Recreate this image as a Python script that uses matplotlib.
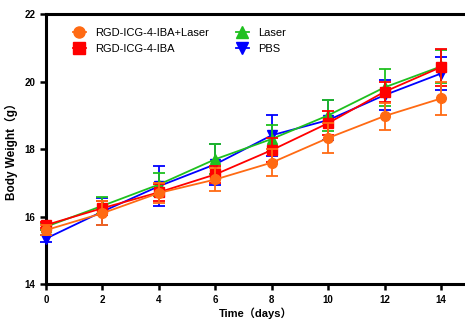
import matplotlib
matplotlib.use("Agg")
import matplotlib.pyplot as plt
from matplotlib.lines import Line2D

days = [0, 2, 4, 6, 8, 10, 12, 14]

labels = ["RGD-ICG-4-IBA+Laser", "RGD-ICG-4-IBA", "Laser", "PBS"]

rgd_laser = [15.60, 16.10, 16.70, 17.10, 17.60, 18.33, 18.98, 19.50]
rgd_laser_sd = [0.15, 0.35, 0.30, 0.35, 0.40, 0.45, 0.40, 0.50]

rgd = [15.75, 16.25, 16.72, 17.25, 17.97, 18.77, 19.70, 20.43]
rgd_sd = [0.10, 0.20, 0.25, 0.25, 0.35, 0.35, 0.30, 0.55]

laser = [15.70, 16.32, 16.95, 17.70, 18.30, 19.00, 19.83, 20.45]
laser_sd = [0.10, 0.25, 0.35, 0.45, 0.40, 0.45, 0.55, 0.50]

pbs = [15.35, 16.15, 16.90, 17.55, 18.41, 18.86, 19.60, 20.24]
pbs_sd = [0.10, 0.40, 0.60, 0.60, 0.60, 0.60, 0.45, 0.50]

colors = ["#FF6A13", "#FF0000", "#1FC01F", "#0000FF"]
markers = ["o", "s", "^", "v"]

fig = plt.figure(figsize=(4.65, 3.21), dpi=100)
ax = fig.add_axes([0.099, 0.115, 0.901, 0.841])

series = [rgd_laser, rgd, laser, pbs]
sds = [rgd_laser_sd, rgd_sd, laser_sd, pbs_sd]
zs = [6, 5, 4, 3]
handles = []
for y, e, c, m, lab, z in zip(series, sds, colors, markers, labels, zs):
    ax.errorbar(days, y, yerr=e, color=c, marker=m, markersize=7,
                linewidth=1.3, elinewidth=1.3, capsize=4.5, capthick=1.3,
                zorder=z, clip_on=False)
    handles.append(Line2D([], [], color=c, marker=m, markersize=8,
                          linewidth=1.3))

ax.set_xlim(0, 14.85)
ax.set_ylim(14, 22)
ax.set_xticks(days)
ax.set_yticks([14, 16, 18, 20, 22])

for s in ["left", "bottom", "top"]:
    ax.spines[s].set_linewidth(2.2)
ax.spines["right"].set_visible(False)
ax.tick_params(axis="both", direction="out", length=4, width=1.8,
               labelsize=7)
for t in ax.get_xticklabels() + ax.get_yticklabels():
    t.set_fontweight("bold")
    t.set_fontfamily("Liberation Sans")

ax.set_xlabel("Time（days）", fontsize=8, fontweight="bold",
              family=["Liberation Sans", "Noto Sans CJK SC"], labelpad=2)
ax.set_ylabel("Body Weight（g）", fontsize=8.5, fontweight="bold",
              family=["Liberation Sans", "Noto Sans CJK SC"], labelpad=5)

leg = ax.legend(handles=handles, labels=labels, loc="upper left",
                ncol=2, frameon=False,
                prop={"family": "Liberation Sans", "size": 8},
                bbox_to_anchor=(0.04, 0.985), handlelength=1.2,
                handletextpad=0.8, columnspacing=2.4, labelspacing=0.55)

fig.savefig("out.png", dpi=100)
